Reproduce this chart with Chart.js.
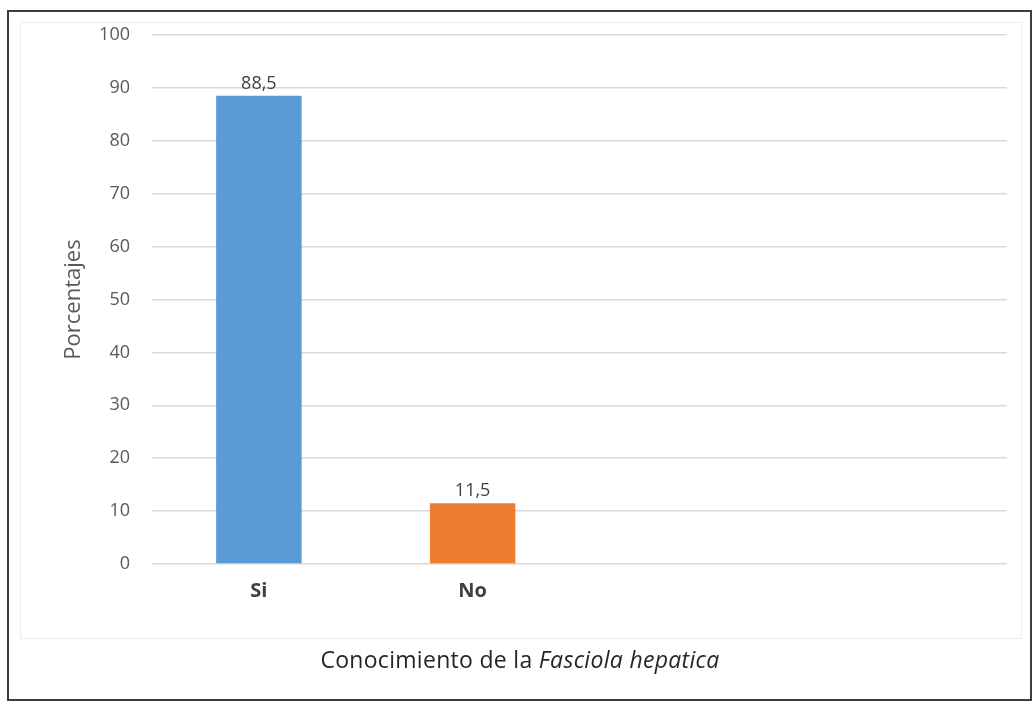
<!DOCTYPE html>
<html>
<head>
<meta charset="utf-8">
<script src="https://cdn.jsdelivr.net/npm/chart.js@4.4.1/dist/chart.umd.min.js"></script>
<style>
    body { margin: 0; background: #fff; }
    #wrap { position: relative; width: 1033px; height: 702px; }
    #frame { position: absolute; left: 7px; top: 10px; width: 1025px; height: 691px; border: 2px solid #3c3c3c; box-sizing: border-box; }
    #inner { position: absolute; left: 20px; top: 22px; width: 1002px; height: 617px; border: 1px solid #ececec; box-sizing: border-box; }
    #chart-bars { position: absolute; left: 0; top: 0; }
    #caption { position: absolute; left: 0; width: 1040px; top: 643px; text-align: center; font-family: "Open Sans"; font-size: 23px; color: #262626; letter-spacing: 0.3px; }
</style>
</head>
<body>
<div id="wrap">
    <div id="frame"></div>
    <div id="inner"></div>
    <canvas id="chart-bars" width="1033" height="702"></canvas>
    <div id="caption">Conocimiento de la <i>Fasciola hepatica</i></div>
</div>
<script>
    // categorías (las dos últimas quedan vacías)
    var categorias = ["Si", "No", "", ""];
    var porcentajes = [88.5, 11.5, null, null];
    var coloresBarras = ["#5b9bd5", "#ed7d31", "#5b9bd5", "#5b9bd5"];
    var ticksY = [0, 10, 20, 30, 40, 50, 60, 70, 80, 90, 100];

    // etiqueta de valor encima de cada barra, con coma decimal
    var etiquetasValor = {
        id: "etiquetasValor",
        afterDatasetsDraw: function (chart) {
            var ctx = chart.ctx;
            var meta = chart.getDatasetMeta(0);
            ctx.save();
            ctx.font = "18px 'Open Sans'";
            ctx.fillStyle = "#404040";
            ctx.textAlign = "center";
            ctx.textBaseline = "bottom";
            meta.data.forEach(function (bar, i) {
                var v = porcentajes[i];
                if (v === null) return;
                ctx.fillText(v.toFixed(1).replace(".", ","), bar.x, bar.y - 3);
            });
            ctx.restore();
        }
    };

    var ctx = document.getElementById("chart-bars").getContext("2d");
    new Chart(ctx, {
        type: "bar",
        data: {
            labels: categorias,
            datasets: [{
                label: "Porcentajes",
                data: porcentajes,
                backgroundColor: coloresBarras,
                borderWidth: 0,
                categoryPercentage: 1,
                barPercentage: 0.4
            }]
        },
        options: {
            responsive: false,
            animation: false,
            layout: { padding: { left: 57, right: 26, top: 35, bottom: 0 } },
            plugins: {
                legend: { display: false },
                tooltip: { enabled: false }
            },
            scales: {
                y: {
                    min: 0,
                    max: 100,
                    afterFit: function (scale) { scale.width = 95; },
                    afterBuildTicks: function (scale) {
                        scale.ticks = ticksY.map(function (v) { return { value: v }; });
                    },
                    border: { display: false },
                    grid: {
                        drawTicks: false,
                        color: "#d9d9d9",
                        lineWidth: 1.5
                    },
                    ticks: {
                        padding: 22,
                        color: "#595959",
                        font: { size: 18, family: "Open Sans" }
                    },
                    title: {
                        display: true,
                        text: "Porcentajes",
                        color: "#595959",
                        font: { size: 22, family: "Open Sans" }
                    }
                },
                x: {
                    afterFit: function (scale) { scale.height = 138; },
                    border: { display: false },
                    grid: { display: false, drawTicks: false },
                    ticks: {
                        padding: 15,
                        color: "#404040",
                        font: { size: 20, weight: "bold", family: "Open Sans" }
                    }
                }
            }
        },
        plugins: [etiquetasValor]
    });
</script>
</body>
</html>
